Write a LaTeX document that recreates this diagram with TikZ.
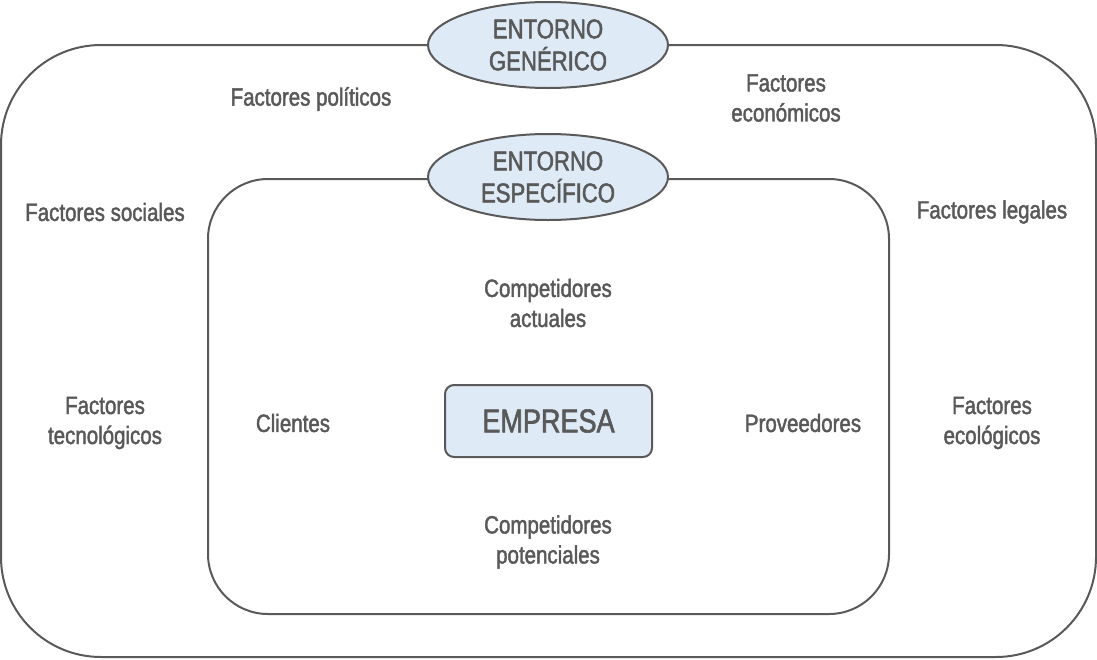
\documentclass[tikz,border=0pt]{standalone}
\usepackage{fontspec}
\setmainfont{Liberation Sans}[FakeStretch=0.82,FakeBold=1.8]
\definecolor{txtgray}{HTML}{595959}
\definecolor{boxblue}{HTML}{DEEAF6}
\tikzset{
    factor/.style={text=txtgray, align=center, font=\fontsize{25}{30}\selectfont},
    entorno/.style={ellipse, draw=txtgray, line width=2pt, fill=boxblue, text=txtgray,
        minimum width=240pt, minimum height=86pt, inner sep=0pt, align=center,
        font=\fontsize{27}{32}\selectfont},
    empresa/.style={draw=txtgray, line width=2pt, fill=boxblue, text=txtgray,
        rounded corners=9pt, minimum width=207pt, minimum height=72pt,
        font=\fontsize{33}{36}\selectfont}
}
\usetikzlibrary{shapes.geometric}
\begin{document}
\begin{tikzpicture}[x=1pt,y=-1pt]

    \def\outerbox{(1,45) rectangle (1096,657)}
    \def\innerbox{(208,179) rectangle (889,614)}
    \useasboundingbox (0,0) rectangle (1097,659);

    %draw boxes:
    \draw[txtgray, line width=2pt, rounded corners=100pt] \outerbox;
    \draw[txtgray, line width=2pt, rounded corners=60pt] \innerbox;

    %draw titles:
    \node[entorno] (generico) at (548,45) {ENTORNO\\GENÉRICO};
    \node[entorno] (especifico) at (548,177) {ENTORNO\\ESPECÍFICO};
    \node[empresa] (empresa) at (548.5,421) {EMPRESA};

    %generic factors:
    \node[factor] (politicos) at (311,99) {Factores políticos};
    \node[factor] (economicos) at (786,98) {Factores\\económicos};
    \node[factor] (sociales) at (105,212) {Factores sociales};
    \node[factor] (legales) at (992,212) {Factores legales};
    \node[factor] (tecnologicos) at (105,423) {Factores\\tecnológicos};
    \node[factor] (ecologicos) at (992,423) {Factores\\ecológicos};

    %specific factors:
    \node[factor] (actuales) at (548,303) {Competidores\\actuales};
    \node[factor] (clientes) at (293,423) {Clientes};
    \node[factor] (proveedores) at (803,423) {Proveedores};
    \node[factor] (potenciales) at (548,542) {Competidores\\potenciales};

\end{tikzpicture}
\end{document}
